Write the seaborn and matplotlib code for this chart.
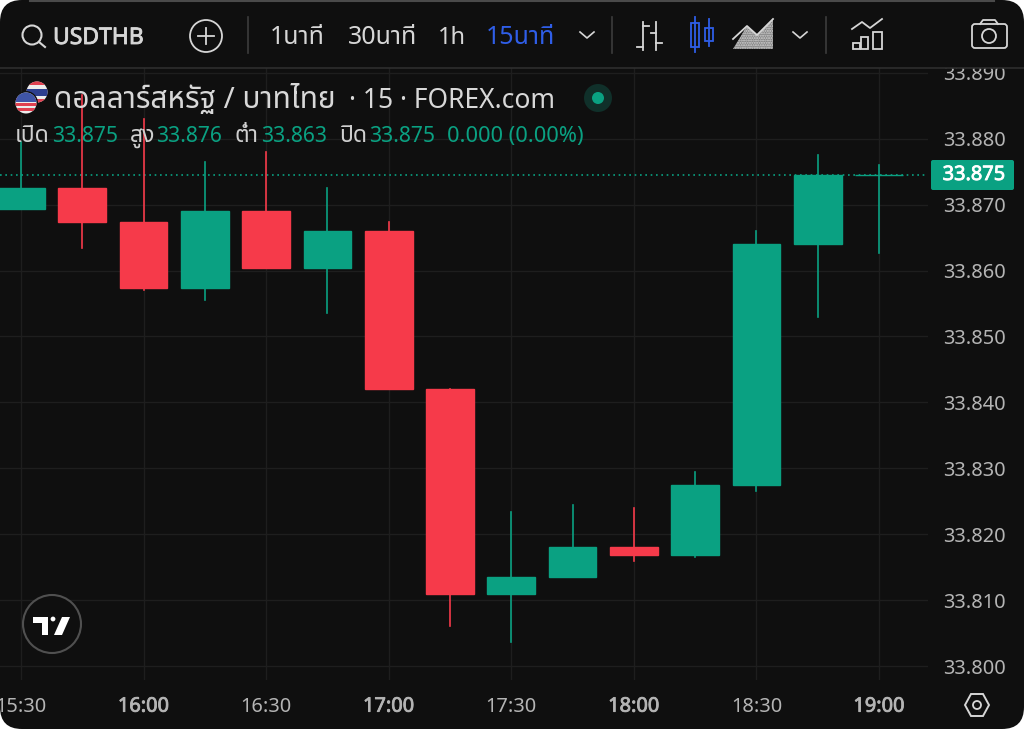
import pandas as pd
import seaborn as sns
import matplotlib
matplotlib.use("Agg")
import matplotlib.pyplot as plt
import matplotlib.patheffects as pe
from matplotlib.patches import Circle, FancyBboxPatch, Polygon, Rectangle

# --- dati ---
TIME_LABELS = ['15:30', '16:00', '16:30', '17:00', '17:30', '18:00', '18:30', '19:00']
BOLD_LABELS = ['16:00', '17:00', '18:00', '19:00']
PRICE_TICKS = [33.80, 33.81, 33.82, 33.83, 33.84, 33.85, 33.86, 33.87, 33.88, 33.89]
MINUTES = [0, 15, 30, 45, 60, 75, 90, 105, 120, 135, 150, 165, 180, 195, 210]
OPEN = [33.8694, 33.8726, 33.8674, 33.8574, 33.8690, 33.8604, 33.8660, 33.8420,
        33.8110, 33.8135, 33.8180, 33.8168, 33.8275, 33.8640, 33.8745]
CLOSE = [33.8726, 33.8674, 33.8574, 33.8690, 33.8604, 33.8660, 33.8420, 33.8110,
         33.8135, 33.8180, 33.8168, 33.8275, 33.8640, 33.8745, 33.8745]
HIGH = [33.8795, 33.8866, 33.8830, 33.8765, 33.8780, 33.8726, 33.8674, 33.8420,
        33.8234, 33.8244, 33.8240, 33.8295, 33.8660, 33.8775, 33.8760]
LOW = [33.8694, 33.8635, 33.8570, 33.8555, 33.8604, 33.8535, 33.8420, 33.8060,
       33.8036, 33.8135, 33.8160, 33.8165, 33.8265, 33.8530, 33.8627]
LAST_PRICE = 33.8745

GREEN = '#0aa182'
RED = '#f63a4a'
BG = '#0f0f0f'
GRID = '#1e1e1e'
TEXT = '#b4b4b4'
BLUE = '#2f5ee8'
CHROME = '#d6d6d6'
PALETTE = {'up': GREEN, 'down': RED}

plt.rcParams['font.family'] = ['Noto Sans', 'Noto Sans Thai', 'DejaVu Sans']


def fake_bold(text, color, width=0.6):
    # Noto Sans qui non ha il peso bold: ispessiamo il contorno
    text.set_path_effects([pe.withStroke(linewidth=width, foreground=color)])


def main():
    candles = pd.DataFrame({'minute': MINUTES, 'open': OPEN, 'close': CLOSE, 'high': HIGH, 'low': LOW})
    candles['direction'] = ['up' if c >= o else 'down' for o, c in zip(OPEN, CLOSE)]
    candles['bottom'] = candles[['open', 'close']].min(axis=1)
    candles['body'] = (candles['close'] - candles['open']).abs()

    # stoppini in formato lungo: due punti per candela
    wicks = candles.melt(id_vars=['minute', 'direction'], value_vars=['low', 'high'], value_name='price')

    fig = plt.figure(figsize=(10.24, 7.29), dpi=100, facecolor='white')

    # sfondo arrotondato
    bg = fig.add_axes([0, 0, 1, 1], zorder=0)
    bg.set_xlim(0, 1024)
    bg.set_ylim(729, 0)
    bg.axis('off')
    bg.add_patch(FancyBboxPatch((0, 0), 1024, 729, boxstyle='round,pad=0,rounding_size=22',
                                facecolor=BG, edgecolor='none'))

    # area del grafico: x 0-928, y 68-680 px
    ax = fig.add_axes([0, (729 - 680) / 729, 928 / 1024, 612 / 729], zorder=1)
    ax.patch.set_alpha(0)

    sns.lineplot(data=wicks, x='minute', y='price', hue='direction', units='minute', estimator=None,
                 palette=PALETTE, linewidth=1.2, legend=False, sort=False, ax=ax)
    for direction, group in candles.groupby('direction'):
        sns.barplot(data=group, x='minute', y='body', bottom=group['bottom'].to_numpy(),
                    color=PALETTE[direction], native_scale=True, width=0.78, errorbar=None,
                    edgecolor=PALETTE[direction], linewidth=1.0, saturation=1, ax=ax)

    ax.axhline(LAST_PRICE, color=GREEN, linestyle=(0, (1, 2.2)), linewidth=1.2, zorder=1.5)

    ax.set_xlim(-21 / 4.0857, (928 - 21) / 4.0857)
    ax.set_ylim(33.8 + (666 - 680) / 6590, 33.8 + (666 - 68) / 6590)
    ax.set_xticks(range(0, 240, 30))
    ax.set_xticklabels(TIME_LABELS)
    ax.set_yticks(PRICE_TICKS)
    ax.set_yticklabels([f'{p:.3f}' for p in PRICE_TICKS])
    ax.yaxis.tick_right()
    ax.tick_params(axis='both', length=0, labelsize=14.4, labelcolor=TEXT)
    ax.tick_params(axis='y', pad=11)
    ax.tick_params(axis='x', pad=12)
    for label in ax.get_xticklabels():
        if label.get_text() in BOLD_LABELS:
            fake_bold(label, TEXT)
    ax.set_xlabel('')
    ax.set_ylabel('')
    ax.grid(True, color=GRID, linewidth=1.0)
    ax.set_axisbelow(True)
    for spine in ax.spines.values():
        spine.set_visible(False)

    # barra superiore, legenda e icone in coordinate pixel
    top = fig.add_axes([0, 0, 1, 1], zorder=2)
    top.set_xlim(0, 1024)
    top.set_ylim(729, 0)
    top.axis('off')
    top.add_patch(Rectangle((0, 30), 1024, 38, facecolor=BG, edgecolor='none'))
    top.plot([0, 1024], [68, 68], color='#2e2e2e', lw=1.2)
    top.plot([30, 994], [1, 1], color='#4a4a4a', lw=1.5)

    # ricerca
    top.add_patch(Circle((32, 35), 9.5, fill=False, ec=CHROME, lw=1.5))
    top.plot([39, 45], [42, 47], color=CHROME, lw=1.5)
    fake_bold(top.text(53, 44, 'USDTHB', color=CHROME, fontsize=16.5, va='baseline'), CHROME)
    top.add_patch(Circle((206, 36), 16, fill=False, ec=CHROME, lw=1.3))
    top.plot([198, 214], [36, 36], color=CHROME, lw=1.3)
    top.plot([206, 206], [28, 44], color=CHROME, lw=1.3)

    for x in (248, 612, 826):
        top.plot([x, x], [17, 53], color='#3c3c3c', lw=1.2)

    for x, label, color, size in [(270, '1นาที', CHROME, 18), (348, '30นาที', CHROME, 18),
                                  (438, '1h', CHROME, 17), (486, '15นาที', BLUE, 18)]:
        top.text(x, 44, label, color=color, fontsize=size, va='baseline')

    for x in (587, 800):
        top.plot([x - 7, x, x + 7], [32, 38, 32], color=CHROME, lw=1.2)

    # icona barre
    top.plot([643, 643], [22, 50], color=CHROME, lw=1.3)
    top.plot([643, 649], [26, 26], color=CHROME, lw=1.3)
    top.plot([637, 643], [47, 47], color=CHROME, lw=1.3)
    top.plot([656, 656], [22, 50], color=CHROME, lw=1.3)
    top.plot([651, 656], [33, 33], color=CHROME, lw=1.3)
    top.plot([656, 662], [43, 43], color=CHROME, lw=1.3)
    # icona candele
    top.plot([695, 695], [17, 52], color=BLUE, lw=1.3)
    top.add_patch(Rectangle((691, 23), 8, 24, facecolor=BG, edgecolor=BLUE, lw=1.3))
    top.plot([709, 709], [19, 46], color=BLUE, lw=1.3)
    top.add_patch(Rectangle((705, 28), 8, 13, facecolor=BG, edgecolor=BLUE, lw=1.3))
    # icona area
    top.add_patch(Polygon([(733, 49), (747, 26), (757, 35), (773, 19), (773, 49)],
                          facecolor='#808080', edgecolor=CHROME, hatch='.......', lw=0))
    top.plot([733, 747, 757, 773], [39, 26, 35, 19], color=CHROME, lw=1.3)
    # icona indicatori
    top.plot([852, 862, 870, 882], [29, 22, 28, 19], color=CHROME, lw=1.3)
    for x0, x1, y0 in [(853, 860, 43), (861, 868, 37), (873, 882, 32)]:
        top.add_patch(Rectangle((x0, y0), x1 - x0, 49 - y0, fill=False, ec=CHROME, lw=1.3))
    # fotocamera
    top.add_patch(FancyBboxPatch((972, 24), 35, 24, boxstyle='round,pad=0,rounding_size=3',
                                 fill=False, ec=CHROME, lw=1.3))
    top.plot([980, 983, 995, 998], [24, 20, 20, 24], color=CHROME, lw=1.3)
    top.add_patch(Circle((989, 36), 7, fill=False, ec=CHROME, lw=1.3))

    # bandiere
    thai = Circle((37, 92), 10.5, facecolor='#ececec', edgecolor='none', zorder=3)
    top.add_patch(thai)
    for y, h, c in [(81, 4, '#e04050'), (88.5, 7, '#2d3f8f'), (99, 4, '#e04050')]:
        s = Rectangle((26, y), 22, h, facecolor=c, edgecolor='none', zorder=3)
        top.add_patch(s)
        s.set_clip_path(thai)
    top.add_patch(Circle((26, 103), 12, facecolor=BG, edgecolor='none', zorder=4))
    usa = Circle((26, 103), 10.5, facecolor='#ececec', edgecolor='none', zorder=4)
    top.add_patch(usa)
    for y in (98, 103, 108):
        s = Rectangle((15, y), 22, 2.5, facecolor='#e04050', edgecolor='none', zorder=4)
        top.add_patch(s)
        s.set_clip_path(usa)
    s = Rectangle((15, 92), 22, 10, facecolor='#3f55a8', edgecolor='none', zorder=4)
    top.add_patch(s)
    s.set_clip_path(usa)

    # legenda
    top.text(54, 108, 'ดอลลาร์สหรัฐ / บาทไทย', color='#d8d8d8', fontsize=21.5, va='baseline')
    top.text(349, 108, '· 15 · FOREX.com', color='#d8d8d8', fontsize=19, va='baseline')
    top.add_patch(Circle((598, 98), 14, facecolor='#10302a', edgecolor='none'))
    top.add_patch(Circle((598, 98), 6, facecolor=GREEN, edgecolor='none'))
    for x, label, color, size in [(15, 'เปิด', '#cfcfcf', 16.5), (52, '33.875', GREEN, 15.2),
                                  (130, 'สูง', '#cfcfcf', 16.5), (156, '33.876', GREEN, 15.2),
                                  (235, 'ต่ำ', '#cfcfcf', 16.5), (261, '33.863', GREEN, 15.2),
                                  (339, 'ปิด', '#cfcfcf', 16.5), (369, '33.875', GREEN, 15.2),
                                  (447, '0.000 (0.00%)', GREEN, 15.7)]:
        top.text(x, 142, label, color=color, fontsize=size, va='baseline')

    # etichetta ultimo prezzo
    top.add_patch(FancyBboxPatch((931, 160), 83, 30, boxstyle='round,pad=0,rounding_size=2',
                                 facecolor=GREEN, edgecolor='none'))
    fake_bold(top.text(974, 175, '33.875', color='white', fontsize=14.4, ha='center', va='center'), 'white')

    # logo
    top.add_patch(Circle((52, 624), 29, facecolor=BG, edgecolor='#505050', lw=1.5))
    top.add_patch(Polygon([(33, 617), (48, 617), (48, 635), (42, 635), (42, 623), (33, 623)], facecolor='white', edgecolor='none'))
    top.add_patch(Circle((53, 619), 2.4, facecolor='white', edgecolor='none'))
    top.add_patch(Polygon([(62, 617), (70, 617), (62, 635), (54, 635)], facecolor='white', edgecolor='none'))

    # esagono impostazioni
    top.add_patch(Polygon([(965, 705), (971, 694), (983, 694), (989, 705), (983, 716), (971, 716)],
                          fill=False, ec=CHROME, lw=1.4))
    top.add_patch(Circle((977, 705), 4, fill=False, ec=CHROME, lw=1.3))

    fig.savefig('out.png', dpi=100, facecolor='white')


if __name__ == "__main__":
    main()
